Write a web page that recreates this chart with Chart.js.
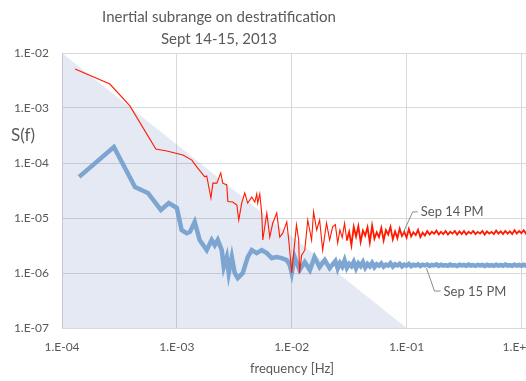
<!DOCTYPE html>
<html>
<head>
<meta charset="utf-8">
<script src="https://cdn.jsdelivr.net/npm/chart.js@4/dist/chart.umd.min.js"></script>
<style>
  html, body { margin: 0; padding: 0; background: #fff; overflow: hidden; width: 526px; height: 381px; }
  #wrap { width: 580px; height: 381px; }
</style>
</head>
<body>
<div id="wrap"><canvas id="spectrum" width="580" height="381"></canvas></div>
<script>
// Sep 14 PM, low frequency part
var redFreq = [0.000130, 0.000261, 0.000390, 0.000656, 0.000818, 0.00113, 0.00135, 0.00149, 0.00175, 0.00182,
    0.00198, 0.00206, 0.00223, 0.00241, 0.00251, 0.00272, 0.00278, 0.00307, 0.00333, 0.00346,
    0.00367, 0.00390, 0.00414, 0.00449, 0.00477, 0.00496, 0.00506, 0.00527, 0.00548, 0.00560,
    0.00607, 0.00644, 0.00684, 0.00741, 0.00787, 0.00836, 0.00906, 0.00942, 0.0100, 0.0104,
    0.0110, 0.0115, 0.0117, 0.0122, 0.0130, 0.0138, 0.0149, 0.0155, 0.0165, 0.0175,
    0.0186, 0.0201, 0.0214, 0.0227];
var redS = [5.1e-3, 2.73e-3, 1.09e-3, 1.80e-4, 1.65e-4, 1.40e-4, 1.13e-4, 8.5e-5, 5.6e-5, 5.8e-5,
    2.3e-5, 4.3e-5, 4.3e-5, 6.6e-5, 4.3e-5, 4.0e-5, 2.0e-5, 1.95e-5, 1.72e-5, 9.2e-6,
    1.87e-5, 2.85e-5, 1.87e-5, 2.4e-5, 1.95e-5, 2.73e-5, 1.87e-5, 2.73e-5, 1.23e-5, 3.98e-6,
    1.23e-5, 4.5e-6, 8.1e-6, 1.23e-5, 4.5e-6, 5.3e-6, 8.5e-6, 3.98e-6, 1.0e-6, 2.3e-6,
    7.5e-6, 3.98e-6, 1.0e-6, 2.1e-6, 2.6e-6, 9.2e-6, 3.98e-6, 1.29e-5, 6.05e-6, 9.2e-6,
    2.6e-6, 8.1e-6, 3.98e-6, 6.9e-6];

// Sep 15 PM, low frequency part
var blueFreq = [0.000141, 0.000283, 0.000432, 0.000560, 0.000726, 0.000851, 0.00100, 0.00110, 0.00122, 0.00130,
    0.00143, 0.00158, 0.00182, 0.00201, 0.00214, 0.00227, 0.00246, 0.00256, 0.00272, 0.00283,
    0.00301, 0.00319, 0.00339, 0.00375, 0.00414, 0.00449, 0.00496, 0.00548, 0.00607, 0.00670,
    0.00741, 0.00819, 0.00906, 0.00962, 0.0100, 0.0106, 0.0117, 0.0130, 0.0144, 0.0158,
    0.0175, 0.0194, 0.0214];
var blueS = [5.6e-5, 1.95e-4, 3.66e-5, 2.85e-5, 1.40e-5, 1.87e-5, 1.52e-5, 6.05e-6, 5.3e-6, 5.6e-6,
    8.5e-6, 3.98e-6, 2.6e-6, 3.98e-6, 3.2e-6, 3.98e-6, 2.6e-6, 1.29e-6, 1.95e-6, 1.0e-6,
    1.95e-6, 1.0e-6, 8.1e-7, 1.0e-6, 1.95e-6, 2.6e-6, 2.3e-6, 2.6e-6, 2.3e-6, 1.87e-6,
    1.95e-6, 1.87e-6, 1.72e-6, 1.40e-6, 1.0e-6, 1.95e-6, 1.13e-6, 1.58e-6, 1.13e-6, 1.95e-6,
    1.29e-6, 1.72e-6, 1.23e-6];

// high frequency part, shared frequencies
var hfFreq = [0.02399, 0.02512, 0.02630, 0.02754, 0.02884, 0.03020, 0.03162, 0.03311, 0.03467, 0.03631,
    0.03802, 0.03981, 0.04169, 0.04365, 0.04571, 0.04786, 0.05012, 0.05248, 0.05495, 0.05754,
    0.06026, 0.06310, 0.06607, 0.06918, 0.07244, 0.07586, 0.07943, 0.08318, 0.08710, 0.09120,
    0.09550, 0.1000, 0.1047, 0.1096, 0.1148, 0.1202, 0.1259, 0.1318, 0.1380, 0.1445,
    0.1514, 0.1585, 0.1660, 0.1738, 0.1820, 0.1905, 0.1995, 0.2089, 0.2188, 0.2291,
    0.2399, 0.2512, 0.2630, 0.2754, 0.2884, 0.3020, 0.3162, 0.3311, 0.3467, 0.3631,
    0.3802, 0.3981, 0.4169, 0.4365, 0.4571, 0.4786, 0.5012, 0.5248, 0.5495, 0.5754,
    0.6026, 0.6310, 0.6607, 0.6918, 0.7244, 0.7586, 0.7943, 0.8318, 0.8710, 0.9120,
    0.9550, 1.000, 1.047, 1.096, 1.148, 1.202, 1.259, 1.318, 1.380, 1.445,
    1.514, 1.585, 1.660, 1.738, 1.820, 1.905, 1.995];
var hfRed = [7.6e-6, 3.5e-6, 6.1e-6, 4.4e-6, 8.0e-6, 3.9e-6, 5.6e-6, 3.2e-6, 6.9e-6, 4.6e-6,
    7.1e-6, 3.7e-6, 5.9e-6, 4.8e-6, 6.8e-6, 3.6e-6, 7.3e-6, 4.2e-6, 5.5e-6, 4.5e-6,
    6.6e-6, 3.9e-6, 6.0e-6, 5.0e-6, 6.9e-6, 4.1e-6, 5.7e-6, 4.3e-6, 6.4e-6, 4.7e-6,
    5.6e-6, 4.4e-6, 6.3e-6, 4.6e-6, 5.5e-6, 4.9e-6, 6.1e-6, 4.5e-6, 5.4e-6, 4.8e-6,
    5.8e-6, 5.0e-6, 5.6e-6, 5.2e-6, 5.9e-6, 5.0e-6, 5.6e-6, 5.1e-6, 5.8e-6, 5.0e-6,
    5.6e-6, 5.2e-6, 5.8e-6, 5.0e-6, 5.7e-6, 5.1e-6, 5.8e-6, 5.0e-6, 5.6e-6, 5.2e-6,
    5.8e-6, 5.1e-6, 5.6e-6, 5.2e-6, 5.8e-6, 5.0e-6, 5.7e-6, 5.2e-6, 5.6e-6, 5.1e-6,
    5.9e-6, 5.2e-6, 5.7e-6, 5.1e-6, 5.8e-6, 5.2e-6, 5.7e-6, 5.1e-6, 6.0e-6, 5.2e-6,
    5.8e-6, 5.3e-6, 6.0e-6, 5.2e-6, 5.9e-6, 5.3e-6, 6.1e-6, 5.2e-6, 5.8e-6, 5.4e-6,
    6.2e-6, 5.3e-6, 6.0e-6, 5.5e-6, 6.4e-6, 5.4e-6, 6.1e-6];
var hfBlue = [1.65e-6, 1.20e-6, 1.52e-6, 1.31e-6, 1.70e-6, 1.24e-6, 1.46e-6, 1.33e-6, 1.60e-6, 1.22e-6,
    1.50e-6, 1.34e-6, 1.58e-6, 1.25e-6, 1.46e-6, 1.32e-6, 1.53e-6, 1.28e-6, 1.44e-6, 1.36e-6,
    1.49e-6, 1.30e-6, 1.42e-6, 1.36e-6, 1.50e-6, 1.31e-6, 1.44e-6, 1.37e-6, 1.47e-6, 1.32e-6,
    1.42e-6, 1.36e-6, 1.46e-6, 1.33e-6, 1.41e-6, 1.37e-6, 1.44e-6, 1.34e-6, 1.42e-6, 1.38e-6,
    1.43e-6, 1.34e-6, 1.40e-6, 1.37e-6, 1.44e-6, 1.35e-6, 1.41e-6, 1.36e-6, 1.39e-6, 1.35e-6,
    1.42e-6, 1.36e-6, 1.39e-6, 1.34e-6, 1.41e-6, 1.37e-6, 1.40e-6, 1.35e-6, 1.42e-6, 1.36e-6,
    1.39e-6, 1.35e-6, 1.41e-6, 1.37e-6, 1.40e-6, 1.34e-6, 1.41e-6, 1.36e-6, 1.39e-6, 1.35e-6,
    1.41e-6, 1.36e-6, 1.40e-6, 1.35e-6, 1.42e-6, 1.36e-6, 1.39e-6, 1.35e-6, 1.41e-6, 1.36e-6,
    1.40e-6, 1.35e-6, 1.41e-6, 1.36e-6, 1.39e-6, 1.35e-6, 1.41e-6, 1.36e-6, 1.40e-6, 1.35e-6,
    1.41e-6, 1.36e-6, 1.40e-6, 1.35e-6, 1.39e-6, 1.36e-6, 1.40e-6];

// -5/3 reference slope (shaded)
var refFreq = [1e-4, 1e-1];
var refS = [1e-2, 1e-7];

var titleLines = ['Inertial subrange on destratification', 'Sept 14-15, 2013'];

function pts(xs, ys) {
    return xs.map(function (x, i) { return { x: x, y: ys[i] }; });
}

function sciLabel(v) {
    var e = Math.round(Math.log10(v));
    return '1.E' + (e < 0 ? '-' : '+') + String(Math.abs(e)).padStart(2, '0');
}

function onlyDecades(scale) {
    scale.ticks = scale.ticks.filter(function (t) {
        var l = Math.log10(t.value);
        return Math.abs(l - Math.round(l)) < 1e-6;
    });
}

var grey = '#595959';
var font = 'Lato, "Open Sans", sans-serif';

var textPlugin = {
    id: 'texts',
    afterDraw: function (chart) {
        var c = chart.ctx, xs = chart.scales.x, ys = chart.scales.y;
        c.save();
        c.fillStyle = grey;
        c.textAlign = 'center';
        c.textBaseline = 'middle';
        c.font = '15px ' + font;
        c.fillText(titleLines[0], 219, 17);
        c.fillText(titleLines[1], 219, 39);
        c.font = '17px ' + font;
        c.fillText('S(f)', 23, 136);
        c.font = '13px ' + font;
        c.fillText('frequency [Hz]', 292, 369);

        // series labels with leader lines
        c.strokeStyle = '#8c8c8c';
        c.lineWidth = 1;
        c.beginPath();
        c.moveTo(xs.getPixelForValue(0.0923), ys.getPixelForValue(5.1e-6));
        c.lineTo(xs.getPixelForValue(0.113), ys.getPixelForValue(1.29e-5));
        c.lineTo(xs.getPixelForValue(0.125), ys.getPixelForValue(1.29e-5));
        c.stroke();
        c.beginPath();
        c.moveTo(xs.getPixelForValue(0.149), ys.getPixelForValue(1.23e-6));
        c.lineTo(xs.getPixelForValue(0.175), ys.getPixelForValue(4.7e-7));
        c.lineTo(xs.getPixelForValue(0.198), ys.getPixelForValue(4.7e-7));
        c.stroke();
        c.textAlign = 'left';
        c.font = '13px ' + font;
        c.fillText('Sep 14 PM', xs.getPixelForValue(0.133), ys.getPixelForValue(1.29e-5));
        c.fillText('Sep 15 PM', xs.getPixelForValue(0.21), ys.getPixelForValue(4.6e-7));
        c.restore();
    }
};

var ctx = document.getElementById('spectrum').getContext('2d');
var myChart = new Chart(ctx, {
    type: 'line',
    data: {
        datasets: [
            {
                label: 'Sep 14 PM',
                data: pts(redFreq.concat(hfFreq), redS.concat(hfRed)),
                borderColor: '#ff1a00',
                borderWidth: 1.1,
                segment: {
                    borderWidth: function (c) { return c.p0.parsed.x >= 0.03 ? 1.8 : 1.1; },
                },
                pointRadius: 0,
                fill: false,
            },
            {
                label: 'Sep 15 PM',
                data: pts(blueFreq.concat(hfFreq), blueS.concat(hfBlue)),
                borderColor: 'rgba(115,158,206,0.92)',
                borderWidth: 4.5,
                pointRadius: 0,
                fill: false,
            },
            {
                label: '-5/3',
                data: pts(refFreq, refS),
                borderWidth: 0,
                borderColor: 'rgba(0,0,0,0)',
                backgroundColor: 'rgba(68,100,170,0.14)',
                pointRadius: 0,
                fill: 'start',
            },
        ],
    },
    options: {
        responsive: false,
        animation: false,
        devicePixelRatio: 1,
        layout: { padding: { top: 53, right: 24, left: 0, bottom: 0 } },
        plugins: {
            legend: { display: false },
            tooltip: { enabled: false },
        },
        scales: {
            x: {
                type: 'logarithmic',
                min: 1e-4,
                max: 2,
                afterBuildTicks: onlyDecades,
                afterFit: function (s) { s.height = 53; },
                grid: { color: '#d9d9d9', drawTicks: false },
                border: { color: '#d9d9d9' },
                ticks: {
                    padding: 12,
                    color: grey,
                    font: { family: font, size: 12 },
                    maxRotation: 0,
                    autoSkip: false,
                    callback: sciLabel,
                },
            },
            y: {
                type: 'logarithmic',
                min: 1e-7,
                max: 1e-2,
                afterBuildTicks: onlyDecades,
                afterFit: function (s) { s.width = 62; },
                grid: { color: '#d9d9d9', drawTicks: false },
                border: { color: '#d9d9d9' },
                ticks: {
                    padding: 13,
                    color: grey,
                    font: { family: font, size: 12 },
                    autoSkip: false,
                    callback: sciLabel,
                },
            },
        },
    },
    plugins: [textPlugin],
});
</script>
</body>
</html>
